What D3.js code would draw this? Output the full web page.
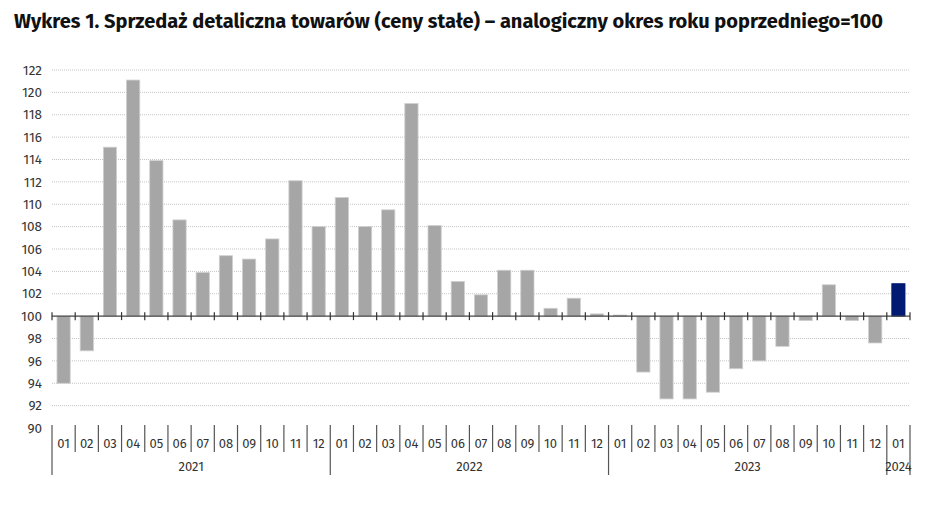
<!DOCTYPE html>
<html>
<head>
<meta charset="utf-8">
<script src="https://cdn.jsdelivr.net/npm/d3@7"></script>
<style>
  body { margin: 0; background: #fff; }
  text { font-family: "Fira Sans", Roboto, "Noto Sans", sans-serif; }
</style>
</head>
<body>
<svg id="chart" width="948" height="508"></svg>
<script>
const years = ["2021", "2022", "2023", "2024"];
const months = ["01", "02", "03", "04", "05", "06", "07", "08", "09", "10", "11", "12"];
const values2021 = [94.0, 96.9, 115.1, 121.1, 113.9, 108.6, 103.9, 105.4, 105.1, 106.9, 112.1, 108.0];
const values2022 = [110.6, 108.0, 109.5, 119.0, 108.1, 103.1, 101.9, 104.1, 104.1, 100.7, 101.6, 100.2];
const values2023 = [100.1, 95.0, 92.6, 92.6, 93.2, 95.3, 96.0, 97.3, 99.6, 102.8, 99.6, 97.6];
const values2024 = [102.9];
const yTicks = [90, 92, 94, 96, 98, 100, 102, 104, 106, 108, 110, 112, 114, 116, 118, 120, 122];

const series = [values2021, values2022, values2023, values2024];
const data = [];
series.forEach((vals, i) => {
    vals.forEach((v, j) => data.push({ id: `${years[i]}-${months[j]}`, year: years[i], month: months[j], value: v }));
});
const latest = data[data.length - 1].id;

const plotLeft = 52, plotRight = 910, plotTop = 70, plotBottom = 428;

const svg = d3.select("#chart");

svg.append("text")
    .attr("x", 14)
    .attr("y", 28)
    .attr("font-size", 20)
    .attr("font-weight", 700)
    .attr("fill", "#111")
    .text("Wykres 1. Sprzedaż detaliczna towarów (ceny stałe) – analogiczny okres roku poprzedniego=100");

const x = d3.scaleBand()
    .domain(data.map(d => d.id))
    .range([plotLeft, plotRight])
    .paddingInner(0.43)
    .paddingOuter(0.215);

const band = d3.scaleBand()
    .domain(data.map(d => d.id))
    .range([plotLeft, plotRight]);

const y = d3.scaleLinear()
    .domain([90, 122])
    .range([plotBottom, plotTop]);

// gridlines
svg.append("g")
    .selectAll("line")
    .data(yTicks.filter(t => t !== 90 && t !== 100))
    .enter().append("line")
    .attr("x1", plotLeft)
    .attr("x2", plotRight)
    .attr("y1", d => y(d))
    .attr("y2", d => y(d))
    .attr("stroke", "#c4c4c4")
    .attr("stroke-width", 1)
    .attr("stroke-dasharray", "1,1");

// y labels
svg.append("g")
    .selectAll("text")
    .data(yTicks)
    .enter().append("text")
    .attr("x", 42)
    .attr("y", d => y(d))
    .attr("dy", "0.35em")
    .attr("text-anchor", "end")
    .attr("font-size", 13.5)
    .attr("fill", "#333")
    .text(d => d);

// bars
svg.append("g")
    .selectAll("rect")
    .data(data)
    .enter().append("rect")
    .attr("x", d => x(d.id))
    .attr("width", x.bandwidth())
    .attr("y", d => y(Math.max(d.value, 100)))
    .attr("height", d => Math.abs(y(d.value) - y(100)))
    .attr("fill", d => d.id === latest ? "#001b71" : "#a6a6a6")
    .attr("stroke", d => d.id === latest ? "#001b71" : "#cfcfcf")
    .attr("stroke-width", 0.8);

// baseline at 100 with ticks at band edges
const y100 = y(100);
svg.append("line")
    .attr("x1", plotLeft)
    .attr("x2", plotRight)
    .attr("y1", y100)
    .attr("y2", y100)
    .attr("stroke", "#444")
    .attr("stroke-width", 1.3);

const edges = data.map(d => band(d.id)).concat([plotRight]);
svg.append("g")
    .selectAll("line")
    .data(edges)
    .enter().append("line")
    .attr("x1", d => d)
    .attr("x2", d => d)
    .attr("y1", y100 - 4)
    .attr("y2", y100 + 4)
    .attr("stroke", "#333")
    .attr("stroke-width", 1.2);

// category axis below
const axisTop = plotBottom - 3;
svg.append("g")
    .selectAll("line")
    .data(data)
    .enter().append("line")
    .attr("x1", d => band(d.id))
    .attr("x2", d => band(d.id))
    .attr("y1", axisTop)
    .attr("y2", d => d.month === "01" ? 475 : 452)
    .attr("stroke", "#555")
    .attr("stroke-width", 1.2);

svg.append("line")
    .attr("x1", plotRight)
    .attr("x2", plotRight)
    .attr("y1", axisTop)
    .attr("y2", 475)
    .attr("stroke", "#555")
    .attr("stroke-width", 1.2);

svg.append("g")
    .selectAll("text")
    .data(data)
    .enter().append("text")
    .attr("x", d => band(d.id) + band.bandwidth() / 2)
    .attr("y", 443)
    .attr("dy", "0.35em")
    .attr("text-anchor", "middle")
    .attr("font-size", 13)
    .attr("fill", "#333")
    .text(d => d.month);

svg.append("g")
    .selectAll("text")
    .data(years)
    .enter().append("text")
    .attr("x", yr => {
        const ids = data.filter(d => d.year === yr);
        const x0 = band(ids[0].id);
        const x1 = band(ids[ids.length - 1].id) + band.bandwidth();
        return (x0 + x1) / 2;
    })
    .attr("y", 466)
    .attr("dy", "0.35em")
    .attr("text-anchor", "middle")
    .attr("font-size", 13)
    .attr("fill", "#333")
    .text(d => d);
</script>
</body>
</html>
